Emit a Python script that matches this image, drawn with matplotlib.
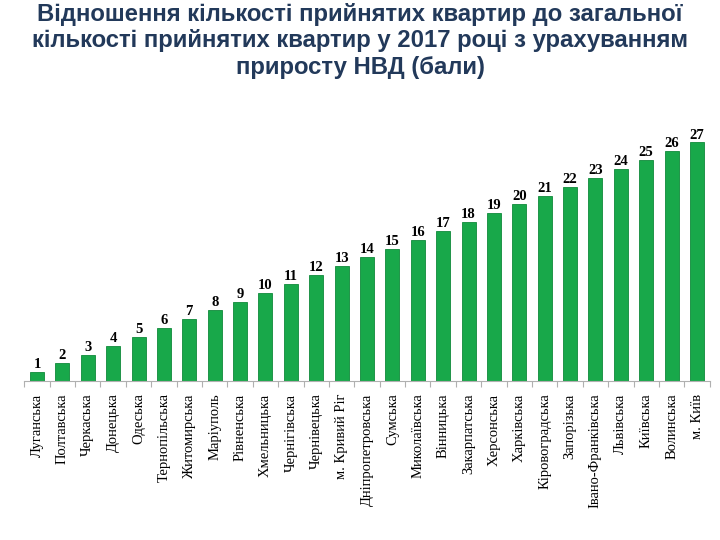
import matplotlib
matplotlib.use("Agg")
import matplotlib.pyplot as plt

categories = ["Луганська", "Полтавська", "Черкаська", "Донецька", "Одеська",
              "Тернопільська", "Житомирська", "Маріуполь", "Рівненська",
              "Хмельницька", "Чернігівська", "Чернівецька", "м. Кривий Ріг",
              "Дніпропетровська", "Сумська", "Миколаївська", "Вінницька",
              "Закарпатська", "Херсонська", "Харківська", "Кіровоградська",
              "Запорізька", "Івано-Франківська", "Львівська", "Київська",
              "Волинська", "м. Київ"]
values = [1, 2, 3, 4, 5, 6, 7, 8, 9, 10, 11, 12, 13, 14, 15, 16, 17, 18, 19,
          20, 21, 22, 23, 24, 25, 26, 27]

title = ("Відношення кількості прийнятих квартир до загальної\n"
         "кількості прийнятих квартир у 2017 році з урахуванням\n"
         "приросту НВД (бали)")

fig = plt.figure(figsize=(7.2, 5.4), dpi=100)
ax = fig.add_axes([24.3/720, 1-381/540, (709.7-24.3)/720, (381-116)/540])

x = list(range(len(categories)))
ax.bar(x, values, width=0.55, color="#18a84a", edgecolor="#0f8a3a", linewidth=0.6)
for xi, v in zip(x, values):
    ax.text(xi, v + 0.1, str(v), ha="center", va="bottom",
            family="Liberation Serif", fontweight="bold", fontsize=10.5, color="black")

ax.set_xlim(-0.5, len(categories) - 0.5)
ax.set_ylim(0, 30)
ax.set_yticks([])
for s in ["top", "right", "left"]:
    ax.spines[s].set_visible(False)
ax.spines["bottom"].set_color("#b0b0b0")
ax.set_xticks([i - 0.5 for i in range(len(categories) + 1)])
ax.set_xticklabels([])
ax.tick_params(axis="x", length=4, color="#b0b0b0", direction="out")
ax.set_xticks(x, minor=True)
ax.set_xticklabels(categories, minor=True, rotation=90, family="Liberation Serif",
                   fontsize=10.5, va="top")
ax.tick_params(axis="x", which="minor", length=0, pad=9)

fig.text(0.5, 0.995, title, ha="center", va="top", family="Liberation Sans",
         fontweight="bold", fontsize=17.2, color="#22395a", linespacing=1.2)

fig.savefig("out.png", dpi=100)
